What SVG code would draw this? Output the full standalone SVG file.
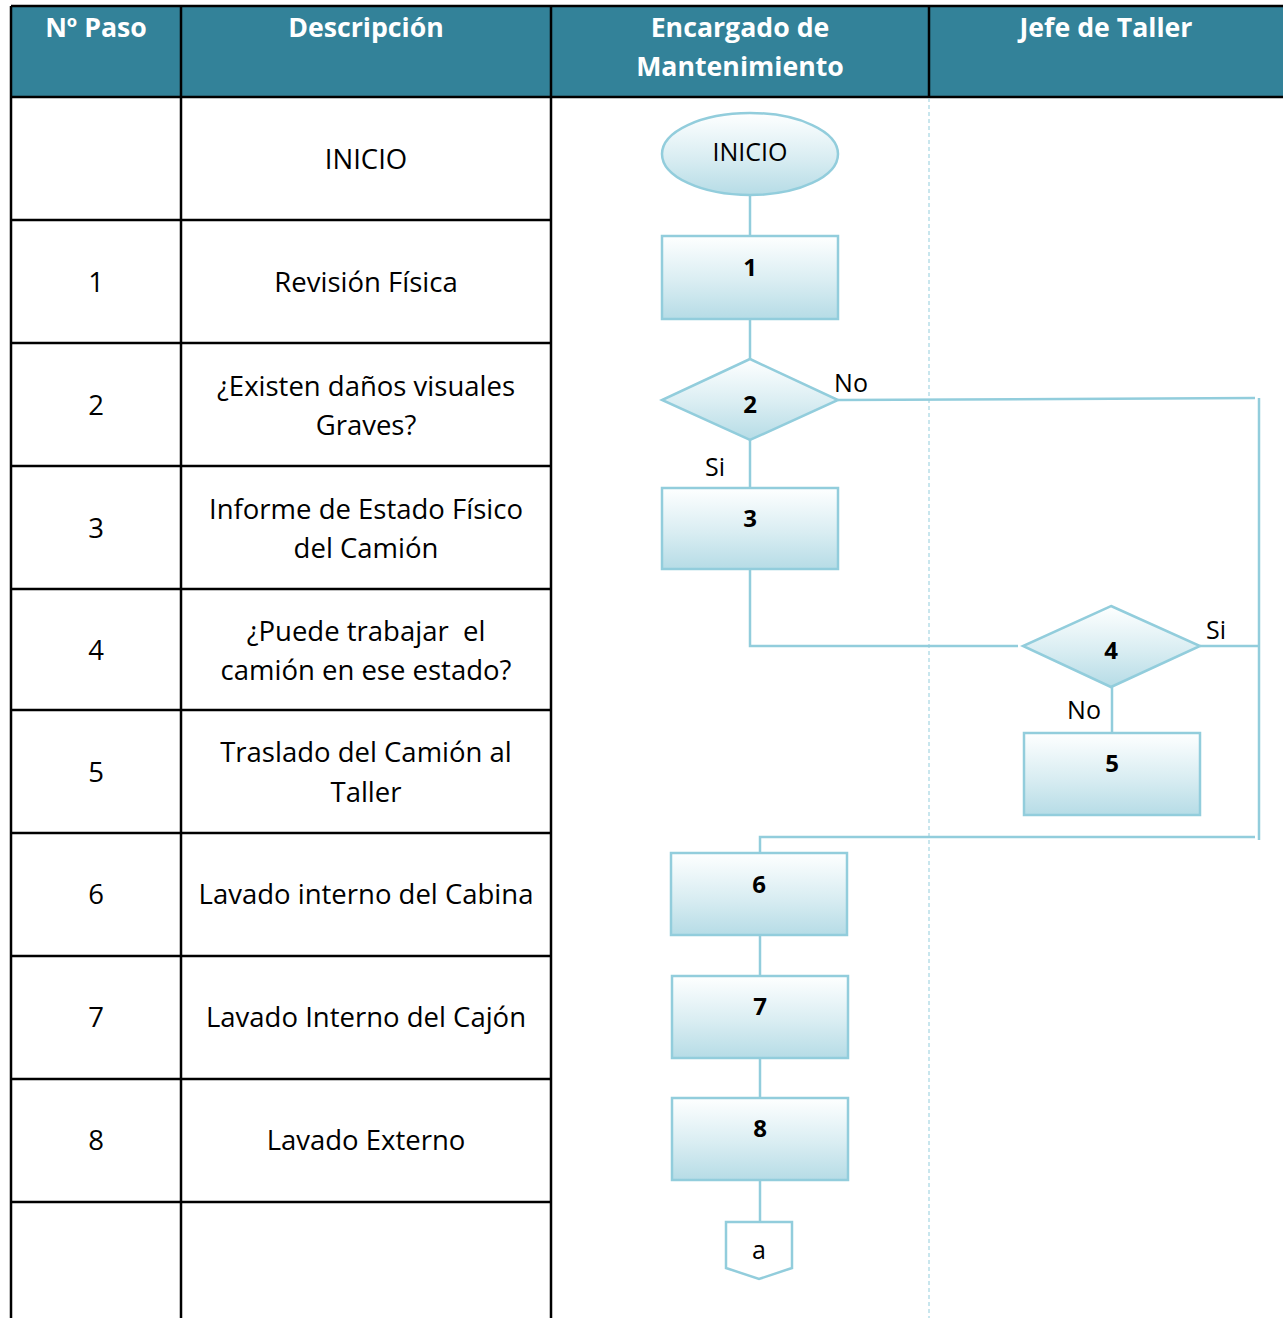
<svg xmlns="http://www.w3.org/2000/svg" width="1283" height="1318" viewBox="0 0 1283 1318">
  <defs>
    <linearGradient id="fillGrad" x1="0" y1="0" x2="0" y2="1">
      <stop offset="0" stop-color="#feffff"/>
      <stop offset="0.55" stop-color="#d9edf2"/>
      <stop offset="1" stop-color="#b6dce6"/>
    </linearGradient>
    <style>
      .hdr { fill: #338299; }
      .grid { stroke: #000; stroke-width: 2.5; fill: none; }
      .lane { stroke: #92cddc; stroke-width: 1; stroke-dasharray: 4 3; fill: none; }
      .shape { fill: url(#fillGrad); stroke: #92cddc; stroke-width: 2.5; }
      .conn { stroke: #92cddc; stroke-width: 2.5; fill: none; }
      .htxt { font-family: "Open Sans", "Liberation Sans", sans-serif; font-weight: bold; font-size: 26.7px; fill: #fff; text-anchor: middle; }
      .ctxt { font-family: "Open Sans", "Liberation Sans", sans-serif; font-size: 27.5px; fill: #000; text-anchor: middle; white-space: pre; }
      .ntxt { font-family: "Open Sans", "Liberation Sans", sans-serif; font-weight: bold; font-size: 24px; fill: #000; text-anchor: middle; }
      .ltxt { font-family: "Open Sans", "Liberation Sans", sans-serif; font-size: 25px; fill: #000; text-anchor: middle; }
    </style>
  </defs>

  <rect width="1283" height="1318" fill="#fff"/>

  <!-- Table header -->
  <g id="table-header">
    <rect class="hdr" x="11" y="6" width="1272" height="91"/>
    <text class="htxt" x="96" y="37">Nº Paso</text>
    <text class="htxt" x="366" y="37">Descripción</text>
    <text class="htxt" x="740" y="37">Encargado de</text>
    <text class="htxt" x="740" y="76">Mantenimiento</text>
    <text class="htxt" x="1106" y="37">Jefe de Taller</text>
  </g>

  <!-- Table grid -->
  <g id="table-grid">
    <line class="grid" x1="11" y1="6" x2="1283" y2="6"/>
    <line class="grid" x1="11" y1="97" x2="1283" y2="97"/>
    <line class="grid" x1="11" y1="6" x2="11" y2="1318"/>
    <line class="grid" x1="181" y1="6" x2="181" y2="1318"/>
    <line class="grid" x1="551" y1="6" x2="551" y2="1318"/>
    <line class="grid" x1="929" y1="6" x2="929" y2="97"/>
    <line class="grid" x1="11" y1="220" x2="551" y2="220"/>
    <line class="grid" x1="11" y1="343" x2="551" y2="343"/>
    <line class="grid" x1="11" y1="466" x2="551" y2="466"/>
    <line class="grid" x1="11" y1="589" x2="551" y2="589"/>
    <line class="grid" x1="11" y1="710" x2="551" y2="710"/>
    <line class="grid" x1="11" y1="833" x2="551" y2="833"/>
    <line class="grid" x1="11" y1="956" x2="551" y2="956"/>
    <line class="grid" x1="11" y1="1079" x2="551" y2="1079"/>
    <line class="grid" x1="11" y1="1202" x2="551" y2="1202"/>
    <line class="lane" x1="929" y1="98" x2="929" y2="1318"/>
  </g>

  <!-- Step table text -->
  <g id="table-text">
    <text class="ctxt" x="366" y="169">INICIO</text>
    <text class="ctxt" x="96" y="292">1</text>
    <text class="ctxt" x="366" y="292">Revisión Física</text>
    <text class="ctxt" x="96" y="415">2</text>
    <text class="ctxt" x="366" y="396">¿Existen daños visuales</text>
    <text class="ctxt" x="366" y="435">Graves?</text>
    <text class="ctxt" x="96" y="538">3</text>
    <text class="ctxt" x="366" y="519">Informe de Estado Físico</text>
    <text class="ctxt" x="366" y="558">del Camión</text>
    <text class="ctxt" x="96" y="660">4</text>
    <text class="ctxt" x="366" y="641">¿Puede trabajar  el</text>
    <text class="ctxt" x="366" y="680">camión en ese estado?</text>
    <text class="ctxt" x="96" y="782">5</text>
    <text class="ctxt" x="366" y="762">Traslado del Camión al</text>
    <text class="ctxt" x="366" y="802">Taller</text>
    <text class="ctxt" x="96" y="904">6</text>
    <text class="ctxt" x="366" y="904">Lavado interno del Cabina</text>
    <text class="ctxt" x="96" y="1027">7</text>
    <text class="ctxt" x="366" y="1027">Lavado Interno del Cajón</text>
    <text class="ctxt" x="96" y="1150">8</text>
    <text class="ctxt" x="366" y="1150">Lavado Externo</text>
  </g>

  <!-- Connectors -->
  <g id="connectors">
    <line class="conn" x1="750" y1="195" x2="750" y2="236"/>
    <line class="conn" x1="750" y1="319" x2="750" y2="359"/>
    <line class="conn" x1="750" y1="440" x2="750" y2="488"/>
    <polyline class="conn" points="838,400 1255,398"/>
    <line class="conn" x1="1259" y1="398" x2="1259" y2="840"/>
    <polyline class="conn" points="750,569 750,646 1018,646"/>
    <line class="conn" x1="1200" y1="646" x2="1259" y2="646"/>
    <line class="conn" x1="1112" y1="687" x2="1112" y2="733"/>
    <polyline class="conn" points="1255,837 760,837 760,853"/>
    <line class="conn" x1="760" y1="935" x2="760" y2="976"/>
    <line class="conn" x1="760" y1="1058" x2="760" y2="1098"/>
    <line class="conn" x1="760" y1="1180" x2="760" y2="1222"/>
    <text class="ltxt" x="851" y="392">No</text>
    <text class="ltxt" x="715" y="476">Si</text>
    <text class="ltxt" x="1216" y="639">Si</text>
    <text class="ltxt" x="1084" y="719">No</text>
  </g>

  <!-- Flowchart nodes -->
  <g id="node-inicio">
    <ellipse class="shape" cx="750" cy="154" rx="88" ry="41"/>
    <text class="ltxt" x="750" y="161">INICIO</text>
  </g>
  <g id="node-1">
    <rect class="shape" x="662" y="236" width="176" height="83"/>
    <text class="ntxt" x="750" y="276">1</text>
  </g>
  <g id="node-2">
    <polygon class="shape" points="750,359 838,400 750,440 662,400"/>
    <text class="ntxt" x="750" y="413">2</text>
  </g>
  <g id="node-3">
    <rect class="shape" x="662" y="488" width="176" height="81"/>
    <text class="ntxt" x="750" y="527">3</text>
  </g>
  <g id="node-4">
    <polygon class="shape" points="1111,606 1200,646 1111,687 1023,646"/>
    <text class="ntxt" x="1111" y="659">4</text>
  </g>
  <g id="node-5">
    <rect class="shape" x="1024" y="733" width="176" height="82"/>
    <text class="ntxt" x="1112" y="772">5</text>
  </g>
  <g id="node-6">
    <rect class="shape" x="671" y="853" width="176" height="82"/>
    <text class="ntxt" x="759" y="893">6</text>
  </g>
  <g id="node-7">
    <rect class="shape" x="672" y="976" width="176" height="82"/>
    <text class="ntxt" x="760" y="1015">7</text>
  </g>
  <g id="node-8">
    <rect class="shape" x="672" y="1098" width="176" height="82"/>
    <text class="ntxt" x="760" y="1137">8</text>
  </g>
  <g id="node-a">
    <polygon points="726,1222 792,1222 792,1268 759,1279 726,1268" fill="#fff" stroke="#92cddc" stroke-width="2.5"/>
    <text class="ltxt" x="759" y="1259">a</text>
  </g>
</svg>
